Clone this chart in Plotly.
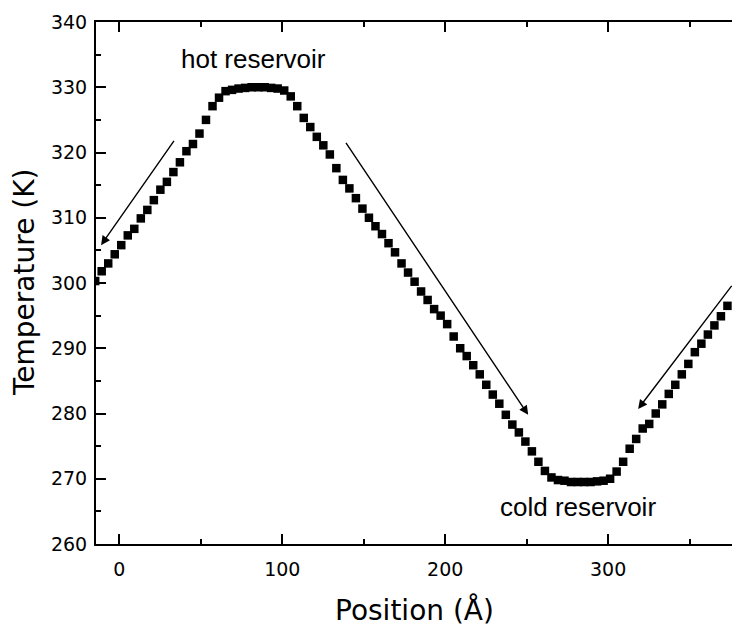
import plotly.graph_objects as go

positions = [-14.8, -10.8, -6.8, -2.8, 1.2, 5.2, 9.2, 13.2, 17.2, 21.2,
             25.2, 29.2, 33.2, 37.2, 41.2, 45.2, 49.2, 53.2, 57.2, 61.2,
             65.2, 69.2, 73.2, 77.2, 81.2, 85.2, 89.2, 93.2, 97.2, 101.2,
             105.2, 109.2, 113.2, 117.2, 121.2, 125.2, 129.2, 133.2, 137.2, 141.2,
             145.2, 149.2, 153.2, 157.2, 161.2, 165.2, 169.2, 173.2, 177.2, 181.2,
             185.2, 189.2, 193.2, 197.2, 201.2, 205.2, 209.2, 213.2, 217.2, 221.2,
             225.2, 229.2, 233.2, 237.2, 241.2, 245.2, 249.2, 253.2, 257.2, 261.2,
             265.2, 269.2, 273.2, 277.2, 281.2, 285.2, 289.2, 293.2, 297.2, 301.2,
             305.2, 309.2, 313.2, 317.2, 321.2, 325.2, 329.2, 333.2, 337.2, 341.2,
             345.2, 349.2, 353.2, 357.2, 361.2, 365.2, 369.2, 373.2]

temperatures = [300.3, 301.8, 303.0, 304.4, 305.8, 307.3, 308.3, 309.9, 311.2, 312.7,
                314.3, 315.5, 317.0, 318.5, 320.2, 321.3, 322.9, 325.0, 327.1, 328.4,
                329.4, 329.6, 329.8, 329.9, 330.0, 330.0, 330.0, 329.9, 329.8, 329.5,
                328.6, 327.1, 325.3, 323.9, 322.4, 321.1, 319.7, 317.6, 315.8, 314.5,
                313.0, 311.4, 310.0, 308.7, 307.5, 306.1, 304.7, 303.0, 301.6, 300.2,
                298.7, 297.4, 296.0, 295.0, 293.7, 291.8, 290.0, 288.8, 287.4, 286.0,
                284.4, 282.9, 281.5, 279.8, 278.3, 277.1, 275.7, 274.2, 272.6, 271.2,
                270.2, 269.8, 269.7, 269.5, 269.5, 269.5, 269.5, 269.6, 269.7, 270.0,
                271.1, 272.6, 274.6, 276.1, 277.7, 278.4, 280.0, 281.4, 283.0, 284.4,
                286.0, 287.6, 289.4, 290.7, 292.1, 293.5, 294.9, 296.5]

# arrows: (tail_x, tail_y, head_x, head_y)
arrow_tail_x = [34.2, 138.5, 376.5]
arrow_tail_y = [322.0, 321.7, 299.8]
arrow_head_x = [-11.2, 250.9, 318.4]
arrow_head_y = [305.8, 279.8, 280.7]

labels = ["hot reservoir", "cold reservoir"]
label_x = [82.6, 281.7]
label_y = [334.3, 265.7]

x_title = "Position (Å)"
y_title = "Temperature (K)"

fig = go.Figure()
fig.add_trace(go.Scatter(
    x=positions, y=temperatures, mode="markers",
    marker=dict(symbol="square", size=8.5, color="black", line=dict(width=0)),
    showlegend=False,
))

for tx, ty, hx, hy in zip(arrow_tail_x, arrow_tail_y, arrow_head_x, arrow_head_y):
    fig.add_annotation(
        x=hx, y=hy, ax=tx, ay=ty, xref="x", yref="y", axref="x", ayref="y",
        text="", showarrow=True, arrowhead=2, arrowsize=1.3, arrowwidth=1.4,
        arrowcolor="black",
    )

for t, lx, ly in zip(labels, label_x, label_y):
    fig.add_annotation(x=lx, y=ly, xref="x", yref="y", text=t, showarrow=False,
                       font=dict(family="Liberation Sans, Arial", size=26, color="black"))

title_font = dict(family="DejaVu Sans", size=28, color="black")
# axis titles placed as paper-anchored annotations
fig.add_annotation(x=0.5, y=0, xref="paper", yref="paper", yshift=-66,
                   text=x_title, showarrow=False, font=title_font, yanchor="middle")
fig.add_annotation(x=0, y=0.5, xref="paper", yref="paper", xshift=-72,
                   text=y_title, showarrow=False, font=title_font, textangle=-90,
                   xanchor="center", yanchor="middle")

axis_common = dict(
    showgrid=False, zeroline=False, showline=True, linecolor="black", linewidth=2,
    ticks="inside", ticklen=10, tickwidth=1.5, tickcolor="black", automargin=False,
    tickfont=dict(family="DejaVu Sans", size=19, color="black"),
)

fig.update_xaxes(
    range=[-14.3, 376], tickvals=[0, 100, 200, 300], mirror="ticks",
    ticklabelstandoff=7,
    minor=dict(tickvals=[50, 150, 250, 350], ticks="inside", ticklen=5,
               tickwidth=1.5, tickcolor="black"),
    **axis_common,
)
fig.update_yaxes(
    range=[260, 340], tickvals=[260, 270, 280, 290, 300, 310, 320, 330, 340],
    ticklabelstandoff=3,
    minor=dict(tickvals=[265, 275, 285, 295, 305, 315, 325, 335], ticks="inside",
               ticklen=5, tickwidth=1.5, tickcolor="black"),
    **axis_common,
)

fig.update_layout(
    width=732, height=628,
    margin=dict(l=96, r=0, t=22, b=84, autoexpand=False),
    plot_bgcolor="white", paper_bgcolor="white",
)

fig.write_html(
    "out.html",
    config={"displayModeBar": False},
    post_script="document.body.style.margin='0';document.body.style.overflow='hidden';",
)
